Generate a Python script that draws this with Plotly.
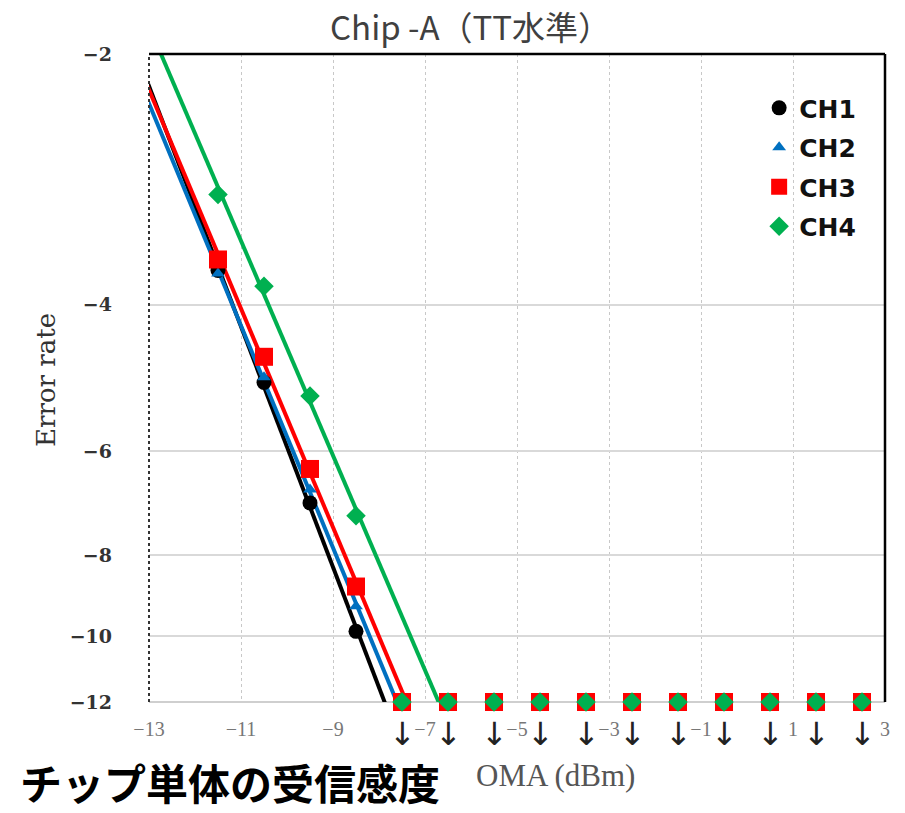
import numpy as np
import plotly.graph_objects as go

# Received optical power (OMA, dBm) where errors were counted
oma_measured = [-11.5, -10.5, -9.5, -8.5]
# Error-rate exponents (log10 of BER) per channel at those powers
ch1_exp = [-3.64, -4.96, -6.92, -9.87]
ch2_exp = [-3.67, -4.89, -6.67, -9.21]
ch3_exp = [-3.53, -4.62, -6.30, -8.72]
ch4_exp = [-2.95, -3.80, -5.15, -7.17]

# Error-free powers: plotted on the floor of the scale with a "below" arrow
oma_error_free = [-7.5, -6.5, -5.5, -4.5, -3.5, -2.5, -1.5, -0.5, 0.5, 1.5, 2.5]
floor_exp = -12

channels = ["CH1", "CH2", "CH3", "CH4"]
exponents = [ch1_exp, ch2_exp, ch3_exp, ch4_exp]
colors = ["#000000", "#0070C0", "#FF0000", "#00B050"]
symbols = ["circle", "triangle-up", "square", "diamond"]
sizes = [15, 12, 18, 15]

y_ticks = [-2, -4, -6, -8, -10, -12]
x_ticks = list(range(-13, 4, 2))


def ber_scale(e):
    """Map an exponent of the error rate onto the log(-log BER) scale."""
    return np.log10(-np.asarray(e, dtype=float))


def minus(v):
    return str(v).replace("-", "\u2212")


fig = go.Figure()

# Straight-line fits on the BER scale
x_line = np.array([-14.0, -5.0])
for name, e, c in zip(channels, exponents, colors):
    k, b = np.polyfit(oma_measured, ber_scale(e), 1)
    fig.add_trace(go.Scatter(
        x=x_line, y=k * x_line + b, mode="lines",
        line=dict(color=c, width=4), showlegend=False, hoverinfo="skip"))

# Measured points plus the error-free points on the floor
for name, e, c, s, sz in zip(channels, exponents, colors, symbols, sizes):
    xs = oma_measured + oma_error_free
    ys = list(ber_scale(e)) + [float(ber_scale(floor_exp))] * len(oma_error_free)
    fig.add_trace(go.Scatter(
        x=xs, y=ys, mode="markers", name=name, legendgroup=name,
        marker=dict(color=c, symbol=s, size=sz, line=dict(width=0)),
        cliponaxis=False))

# Arrows under the error-free points
annotations = []
for xv in oma_error_free:
    annotations.append(dict(
        x=xv, y=0, xref="x", yref="paper", text="\u2193", showarrow=False,
        yanchor="top", yshift=-11,
        font=dict(family="DejaVu Sans", size=32, color="#222222")))

annotations += [
    dict(text="Error rate", x=-0.14, y=0.497, xref="paper", yref="paper",
         xanchor="center", yanchor="middle",
         textangle=-90, showarrow=False,
         font=dict(family="DejaVu Serif", size=26, color="#333333")),
    dict(text="OMA (dBm)", x=0.552, y=-0.1127, xref="paper", yref="paper",
         xanchor="center", yanchor="middle", showarrow=False,
         font=dict(family="Liberation Serif", size=31, color="#555555")),
    dict(text="<b>チップ単体の受信感度</b>", x=-0.178, y=-0.122,
         xref="paper", yref="paper", xanchor="left", yanchor="middle",
         showarrow=False,
         font=dict(family="Noto Sans CJK JP", size=42, color="#000000")),
]

shapes = [
    dict(type="line", xref="paper", yref="paper", x0=0, x1=0, y0=0, y1=1,
         line=dict(color="#333333", width=2, dash="dot")),
    dict(type="line", xref="paper", yref="paper", x0=0, x1=1, y0=1, y1=1,
         line=dict(color="#000000", width=2.5)),
    dict(type="line", xref="paper", yref="paper", x0=1, x1=1, y0=0, y1=1,
         line=dict(color="#000000", width=2.5)),
    dict(type="line", xref="paper", yref="paper", x0=0, x1=1, y0=0, y1=0,
         line=dict(color="#cfcfcf", width=2), layer="below"),
]

fig.update_layout(
    width=905, height=813,
    margin=dict(l=149, r=20, t=54, b=111),
    paper_bgcolor="white", plot_bgcolor="white",
    title=dict(text="Chip -A（TT水準）", x=0.52, xref="container",
               xanchor="center", y=1 - 28 / 813, yref="container",
               yanchor="middle",
               font=dict(family="Noto Sans CJK JP", size=33, color="#404040")),
    xaxis=dict(range=[-13, 3], tickvals=x_ticks,
               ticktext=[minus(v) for v in x_ticks],
               showgrid=True, gridcolor="#c8c8c8", gridwidth=1, griddash="dot",
               zeroline=False, showline=False, ticks="",
               ticklabelstandoff=13,
               tickfont=dict(family="Liberation Serif", size=20,
                             color="#777777")),
    yaxis=dict(range=[float(ber_scale(-12)), float(ber_scale(-2))],
               tickvals=list(ber_scale(y_ticks)),
               ticktext=[minus(v) for v in y_ticks],
               showgrid=True, gridcolor="#d9d9d9", gridwidth=2,
               zeroline=False, showline=False, ticks="",
               ticklabelstandoff=36,
               tickfont=dict(family="DejaVu Serif", size=19, color="#333333",
                             weight="bold")),
    legend=dict(x=0.829, y=0.952, xanchor="left", yanchor="top",
                bgcolor="rgba(0,0,0,0)", tracegroupgap=4,
                font=dict(family="DejaVu Sans", size=25, color="#111111",
                          weight="bold")),
    annotations=annotations,
    shapes=shapes,
)

fig.write_html("out.html")
